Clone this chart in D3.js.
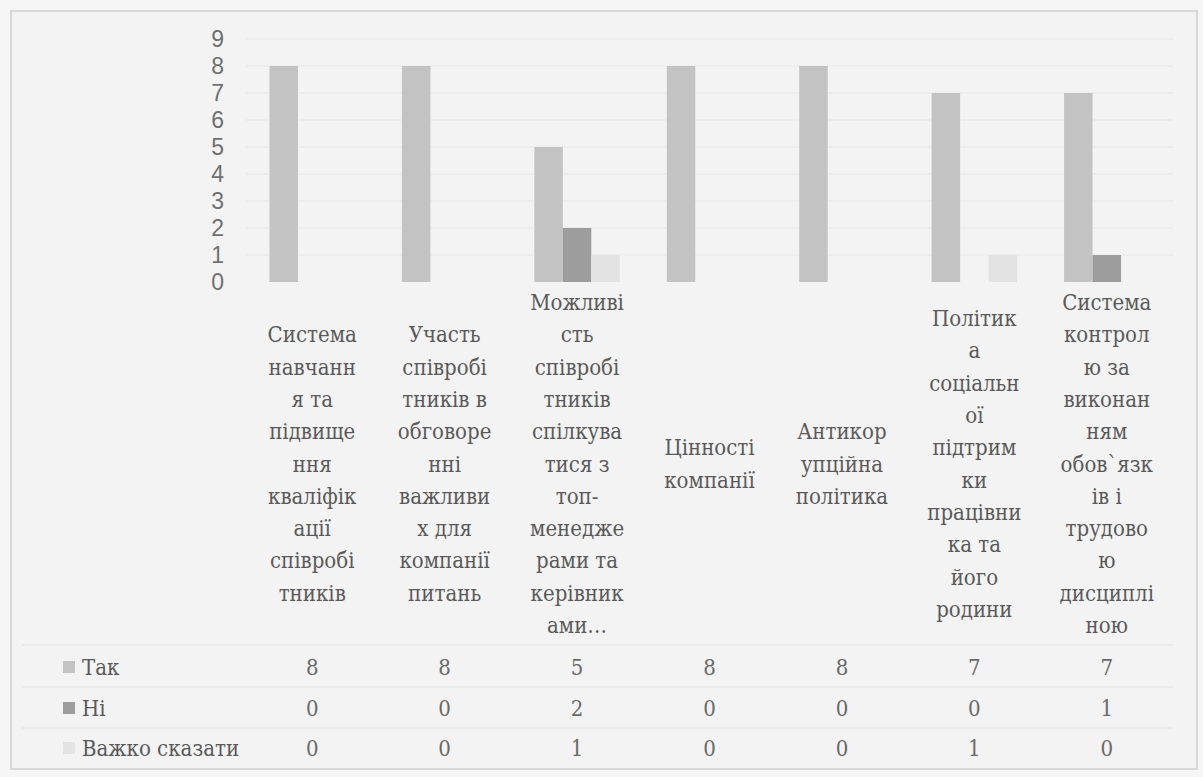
<!DOCTYPE html>
<html lang="uk">
<head>
<meta charset="utf-8">
<script src="https://cdn.jsdelivr.net/npm/d3@7/dist/d3.min.js"></script>
<style>
  html, body { margin: 0; padding: 0; background: #f5f5f5; }
  svg { display: block; }
  .serif { font-family: "DejaVu Serif Condensed", "DejaVu Serif", serif; font-stretch: condensed; }
</style>
</head>
<body>
<svg id="chart" width="1203" height="777"></svg>
<script>
// Категорії (повні назви) та їхні рядки підписів, як вони переносяться в таблиці даних
const categories = [
  "Система навчання та підвищення кваліфікації співробітників",
  "Участь співробітників в обговоренні важливих для компанії питань",
  "Можливість співробітників спілкуватися з топ-менеджерами та керівниками…",
  "Цінності компанії",
  "Антикорупційна політика",
  "Політика соціальної підтримки працівника та його родини",
  "Система контролю за виконанням обов`язків і трудовою дисципліною"
];
const categoryLines = [
  ["Система", "навчанн", "я та", "підвище", "ння", "кваліфік", "ації", "співробі", "тників"],
  ["Участь", "співробі", "тників в", "обговоре", "нні", "важливи", "х для", "компанії", "питань"],
  ["Можливі", "сть", "співробі", "тників", "спілкува", "тися з", "топ-", "менедже", "рами та", "керівник", "ами…"],
  ["Цінності", "компанії"],
  ["Антикор", "упційна", "політика"],
  ["Політик", "а", "соціальн", "ої", "підтрим", "ки", "працівни", "ка та", "його", "родини"],
  ["Система", "контрол", "ю за", "виконан", "ням", "обов`язк", "ів і", "трудово", "ю", "дисциплі", "ною"]
];

// Ряди даних
const seriesNames = ["Так", "Ні", "Важко сказати"];
const valuesTak = [8, 8, 5, 8, 8, 7, 7];
const valuesNi = [0, 0, 2, 0, 0, 0, 1];
const valuesVazhko = [0, 0, 1, 0, 0, 1, 0];
const yTicks = [0, 1, 2, 3, 4, 5, 6, 7, 8, 9];

const seriesValues = [valuesTak, valuesNi, valuesVazhko];
const seriesColors = ["#c3c3c3", "#9d9d9d", "#e3e3e3"];

const svg = d3.select("#chart");

// Рамка діаграми
svg.append("rect")
  .attr("x", 11).attr("y", 11)
  .attr("width", 1186).attr("height", 758)
  .attr("fill", "#f3f3f3")
  .attr("stroke", "#cfcfcf")
  .attr("stroke-width", 1.5);

// Шкали
const x = d3.scaleBand().domain(d3.range(categories.length)).range([246, 1173]).padding(0);
const gapWidth = 1.65; // проміжок між групами, у частках ширини стовпчика
const barW = x.bandwidth() / (seriesNames.length + gapWidth);
const xInner = d3.scaleBand()
  .domain(d3.range(seriesNames.length))
  .range([barW * gapWidth / 2, x.bandwidth() - barW * gapWidth / 2])
  .padding(0);
const y = d3.scaleLinear().domain([0, 9]).range([282, 39]);

// Лінії сітки
svg.append("g")
  .selectAll("line")
  .data(yTicks.slice(1))
  .join("line")
  .attr("x1", x.range()[0]).attr("x2", x.range()[1])
  .attr("y1", d => y(d)).attr("y2", d => y(d))
  .attr("stroke", "#e7e7e7")
  .attr("stroke-width", 1);

// Вісь значень
const yAxis = svg.append("g")
  .attr("transform", "translate(228,0)")
  .call(d3.axisLeft(y).tickValues(yTicks).tickSize(0).tickPadding(4).tickFormat(d3.format("d")));
yAxis.select(".domain").remove();
yAxis.selectAll("text")
  .attr("font-family", "'Liberation Sans', Arial, sans-serif")
  .attr("font-size", 23)
  .attr("fill", "#707070");

// Стовпчики
const groups = svg.append("g")
  .selectAll("g")
  .data(seriesNames.map((name, si) => ({ name, si, values: seriesValues[si] })))
  .join("g")
  .attr("fill", d => seriesColors[d.si]);

groups.selectAll("rect")
  .data(d => d.values.map((v, ci) => ({ v, ci, si: d.si })))
  .join("rect")
  .attr("x", d => x(d.ci) + xInner(d.si))
  .attr("width", xInner.bandwidth())
  .attr("y", d => y(d.v))
  .attr("height", d => y(0) - y(d.v));

// Підписи категорій (таблиця даних)
const fontSize = 22;
const lineH = 32.3;
const labelCenterY = 464;
const catLabels = svg.append("g")
  .attr("class", "serif")
  .attr("font-size", fontSize)
  .attr("fill", "#5a5a5a")
  .attr("text-anchor", "middle");

categoryLines.forEach((lines, ci) => {
  const cx = x(ci) + x.bandwidth() / 2;
  const top = labelCenterY - (lines.length - 1) * lineH / 2;
  catLabels.append("text")
    .selectAll("tspan")
    .data(lines)
    .join("tspan")
    .attr("x", cx)
    .attr("y", (d, i) => top + i * lineH)
    .attr("dominant-baseline", "central")
    .text(d => d);
});

// Рядки таблиці даних
const rowY = [667, 708, 748];
const rowLines = [645, 687, 728];

svg.append("g")
  .selectAll("line")
  .data(rowLines)
  .join("line")
  .attr("x1", 22).attr("x2", x.range()[1])
  .attr("y1", d => d).attr("y2", d => d)
  .attr("stroke", "#e4e4e4")
  .attr("stroke-width", 1.2);

const rows = svg.append("g")
  .selectAll("g")
  .data(seriesNames.map((name, si) => ({ name, si, values: seriesValues[si] })))
  .join("g")
  .attr("transform", d => `translate(0,${rowY[d.si]})`);

rows.append("rect")
  .attr("x", 63).attr("y", -6)
  .attr("width", 12).attr("height", 12)
  .attr("fill", d => seriesColors[d.si]);

rows.append("text")
  .attr("class", "serif")
  .attr("x", 82)
  .attr("dominant-baseline", "central")
  .attr("font-size", fontSize)
  .attr("fill", "#5a5a5a")
  .text(d => d.name);

rows.selectAll("text.val")
  .data(d => d.values.map((v, ci) => ({ v, ci })))
  .join("text")
  .attr("class", "val serif")
  .attr("x", d => x(d.ci) + x.bandwidth() / 2)
  .attr("dominant-baseline", "central")
  .attr("text-anchor", "middle")
  .attr("font-size", fontSize)
  .attr("fill", "#6a6a6a")
  .text(d => d.v);
</script>
</body>
</html>
